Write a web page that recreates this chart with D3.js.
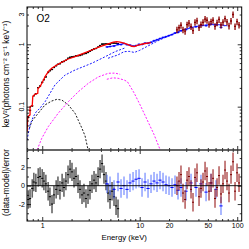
<!DOCTYPE html>
<html>
<head>
<meta charset="utf-8">
<script src="https://cdn.jsdelivr.net/npm/d3@7"></script>
<style>
body { margin: 0; background: #fff; }
svg { display: block; }
text { font-family: "Liberation Sans", Arial, sans-serif; }
</style>
</head>
<body>
<svg id="chart" width="249" height="249"></svg>
<script>
// black data set (soft band)
const blackE = [0.72,0.75,0.79,0.82,0.86,0.91,0.95,1.0,1.04,1.09,1.15,1.2,1.26,1.32,1.39,1.45,1.52,1.6,1.67,1.75,1.84,1.93,2.02,2.12,2.22,2.33,2.44,2.56,2.68,2.81,2.95,3.09,3.24,3.4,3.56,3.74,3.92,4.11,4.3,4.51,4.73,4.96,5.2,5.45,5.72,5.99];
const blackFlux = [0.0674,0.0869,0.1032,0.1495,0.1612,0.2014,0.2142,0.2448,0.2703,0.2995,0.3546,0.3783,0.3943,0.4241,0.4554,0.478,0.4908,0.5219,0.5303,0.5549,0.5974,0.6186,0.6298,0.6375,0.654,0.6583,0.6633,0.6825,0.7056,0.7141,0.741,0.7752,0.8141,0.8425,0.8564,0.902,0.9562,1.007,1.009,1.0125,1.0045,1.0058,1.049,1.0476,1.0395,1.022];
const blackRes = [-1.5,-1.4,-0.3,0.4,0.3,0.9,1.0,0.8,0.5,0.2,-0.6,-1.2,-2.0,-1.0,-0.4,0.0,-0.5,0.3,-0.2,0.5,1.2,1.8,1.5,0.8,1.0,0.2,-0.4,-1.0,-0.8,-1.4,-1.0,-0.5,0.2,0.6,0.3,1.0,1.8,2.4,1.2,0.5,-0.8,-1.5,-0.6,-1.2,-2.2,-2.5];

// blue data set
const blueE = [4.62,4.96,5.45,5.99,6.43,6.9,7.41,7.95,8.54,9.17,9.84,10.56,11.34,12.17,13.06,14.02,15.05,16.15,17.34,18.61,19.98,21.44,23.02,24.71,26.52,29.85,33.6,37.8,42.5,47.9,53.9,60.6,68.2];
const blueFlux = [0.907,0.92,0.935,0.996,0.988,1.03,0.984,0.972,0.938,0.956,1.0,0.992,1.046,1.037,1.079,1.142,1.184,1.239,1.29,1.325,1.38,1.429,1.516,1.548,1.647,1.718,1.872,1.915,2.006,1.983,2.105,2.047,1.87];
const blueRes = [0.2,0.0,-0.4,0.4,-0.3,0.0,-0.4,0.3,0.5,0.7,0.8,-0.2,0.4,-0.3,0.2,0.5,0.3,0.6,0.4,0.1,0.0,-0.2,0.1,-0.5,-0.2,-0.6,0.3,-0.2,0.2,-0.7,0.3,-0.4,-2.2];

// dark red data set (hard band)
const darkE = [24.1,25.3,26.5,27.8,29.2,30.6,32.0,33.6,35.2,36.9,38.7,40.6,42.5,44.6,46.8,49.0,51.4,53.9,56.5,59.2,62.1,65.1,68.2,71.5,75.0,78.6,82.4,86.4,90.6,95.0,99.6,104.4];
const darkFlux = [1.70,1.84,2.02,1.70,1.62,2.06,2.18,1.92,1.66,2.25,2.37,1.85,2.07,2.25,2.54,2.43,2.09,2.30,2.43,1.94,2.21,2.50,2.04,2.26,2.57,2.28,1.97,2.36,3.0,1.93,2.30,2.04];
const darkRes = [0.0,0.5,1.2,-0.8,-1.5,0.6,1.0,-0.4,-1.8,0.9,1.4,-1.2,-0.3,0.4,1.6,1.0,-0.6,0.3,0.8,-1.4,-0.2,1.1,-0.9,0.2,1.7,0.5,-0.8,1.2,2.6,-0.6,1.4,0.3];

// models and components [energy, keV^2 flux]
const modelA = [[0.70,0.040],[0.71,0.069],[0.75,0.074],[0.75,0.100],[0.79,0.104],[0.80,0.145],[0.84,0.158],[0.90,0.164],[0.905,0.197],[0.95,0.209],[0.99,0.237],[1.03,0.268],[1.07,0.303],[1.155,0.364],[1.25,0.412],[1.41,0.466],[1.585,0.515],[1.85,0.581],[2.17,0.633],[2.64,0.717],[3.22,0.81],[3.92,0.915],[4.59,1.0],[5.0,1.04],[5.37,1.08],[5.8,1.10],[6.3,1.08],[6.9,1.04],[7.6,0.99],[8.3,0.93],[8.8,0.915],[9.3,0.95],[9.85,0.975],[11.0,1.02],[13.0,1.06]];
const modelB = [[4.6,0.9],[5.45,0.95],[6.4,1.0],[6.9,1.03],[7.95,0.96],[8.54,0.92],[9.84,0.97],[11.34,1.03],[13.06,1.07],[15.05,1.17],[17.34,1.27],[19.98,1.38],[23.0,1.51],[26.5,1.66],[29.85,1.76],[33.6,1.85],[37.8,1.93],[42.5,1.99],[47.9,2.04],[53.9,2.08],[60.6,2.08],[68.2,2.05],[79,1.98]];
const contA = [[0.698,0.029],[0.75,0.051],[0.805,0.068],[0.864,0.082],[0.95,0.095],[1.07,0.12],[1.35,0.223],[1.71,0.32],[2.17,0.387],[3.22,0.496],[4.43,0.633],[5.58,0.761],[7.05,0.873]];
const contB = [[4.73,0.597],[5.96,0.674],[6.9,0.761],[7.8,0.77],[8.8,0.74],[10.0,0.80],[12.0,0.93],[15.1,1.12],[17.34,1.24],[19.98,1.36],[23.0,1.49],[26.5,1.64],[29.85,1.74],[37.8,1.91],[47.9,2.02],[60.6,2.06],[79,1.96]];
const lineA = [[0.86,0.018],[0.988,0.031],[1.155,0.048],[1.46,0.0786],[1.85,0.12],[2.35,0.174],[2.97,0.237],[3.76,0.30],[4.77,0.343],[5.58,0.345],[6.3,0.33]];
const lineB = [[4.6,0.275],[5.3,0.29],[6.0,0.285],[6.9,0.268],[7.47,0.252],[8.8,0.164],[10.3,0.10],[11.95,0.061],[14.0,0.036],[16.5,0.019]];
const discA = [[0.74,0.045],[0.78,0.058],[0.91,0.0786],[1.07,0.107],[1.25,0.123],[1.41,0.131],[1.585,0.128],[1.85,0.107],[2.17,0.0786],[2.35,0.06],[2.54,0.046],[2.75,0.034],[2.97,0.0195]];

// ticks
const xMajor = [1, 10, 100];
const xLabels = [1, 10, 20, 50, 100];
const yTopMajor = [0.1, 1];
const yTopLabels = [0.1, 1, 3];
const resTicks = [-3, -2, -1, 0, 1, 2, 3];
const resLabels = [-2, 0, 2];

const left = 27, right = 241.7, topY = 7, midY = 150, botY = 221;

const x = d3.scaleLog().domain([0.698, 111.2]).range([left, right]);
const yTop = d3.scaleLog().domain([0.0202, 3.96]).range([midY, topY]);
const yRes = d3.scaleLinear().domain([-3.84, 3.88]).range([botY, midY]);

const svg = d3.select("#chart");
const defs = svg.append("defs");
defs.append("clipPath").attr("id", "clipTop").append("rect")
    .attr("x", left).attr("y", topY).attr("width", right - left).attr("height", midY - topY);
defs.append("clipPath").attr("id", "clipRes").append("rect")
    .attr("x", left).attr("y", midY).attr("width", right - left).attr("height", botY - midY);

const line = d3.line().x(d => x(d[0])).y(d => yTop(d[1]));
const gTop = svg.append("g").attr("clip-path", "url(#clipTop)");
const gRes = svg.append("g").attr("clip-path", "url(#clipRes)");

function curve(data, color, dash, w) {
    gTop.append("path").datum(data)
        .attr("fill", "none")
        .attr("stroke", color)
        .attr("stroke-width", w)
        .attr("stroke-dasharray", dash)
        .attr("d", line);
}

function spectrum(E, F, frac, color, hw, w) {
    const rows = E.map((e, i) => ({e: e, f: F[i]}));
    const g = gTop.append("g").attr("stroke", color).attr("stroke-width", w);
    g.append("g").selectAll("line").data(rows).join("line")
        .attr("x1", d => x(d.e)).attr("x2", d => x(d.e))
        .attr("y1", d => yTop(d.f * (1 - frac))).attr("y2", d => yTop(d.f * (1 + frac)));
    g.append("g").selectAll("line").data(rows).join("line")
        .attr("x1", d => x(d.e) - hw).attr("x2", d => x(d.e) + hw)
        .attr("y1", d => yTop(d.f)).attr("y2", d => yTop(d.f));
}

function residuals(E, R, barColor, color, hw, w) {
    const rows = E.map((e, i) => ({e: e, r: R[i]}));
    gRes.append("g").attr("stroke", barColor).attr("stroke-width", w).attr("opacity", 0.75)
      .selectAll("line").data(rows).join("line")
        .attr("x1", d => x(d.e)).attr("x2", d => x(d.e))
        .attr("y1", d => yRes(d.r - 1)).attr("y2", d => yRes(d.r + 1));
    gRes.append("g").attr("stroke", color).attr("stroke-width", 1)
      .selectAll("line").data(rows).join("line")
        .attr("x1", d => x(d.e) - hw).attr("x2", d => x(d.e) + hw)
        .attr("y1", d => yRes(d.r)).attr("y2", d => yRes(d.r));
}

// top panel
curve(discA, "#000", "2,1.6", 0.9);
curve(lineA, "#ff00ff", "2,1.6", 0.9);
curve(lineB, "#ff00ff", "2,1.6", 0.9);
curve(contA, "#0000ff", "2,1.6", 0.9);
curve(contB, "#0000ff", "2,1.6", 0.9);
spectrum(blackE, blackFlux, 0.03, "#000", 1.1, 1.2);
curve(modelB, "#3030ff", null, 1);
spectrum(blueE, blueFlux, 0.035, "#0000ff", 1.5, 1);
spectrum(darkE, darkFlux, 0.12, "#8b0000", 1.0, 1.3);
curve(modelA, "#ff0000", null, 1.3);

// residual panel
residuals(blackE, blackRes, "#333", "#000", 1.1, 1.6);
residuals(blueE, blueRes, "#3355ff", "#0000ff", 1.6, 1.1);
residuals(darkE, darkRes, "#9b2020", "#7a0000", 1.0, 1.5);
gRes.append("line")
    .attr("x1", left).attr("x2", right)
    .attr("y1", yRes(0)).attr("y2", yRes(0))
    .attr("stroke", "#000").attr("stroke-width", 0.9);

// axes
function styleAxis(g) {
    g.select(".domain").remove();
    g.attr("font-family", "Liberation Sans, Arial, sans-serif").attr("font-size", 7);
    g.selectAll(".tick line").attr("stroke-width", 0.8);
}

function xAxis(axisFn, yPos, withLabels) {
    const k = axisFn === d3.axisBottom ? -1 : 1;
    const g = svg.append("g").attr("transform", `translate(0,${yPos})`)
        .call(axisFn(x).tickValues(x.ticks()).tickSizeInner(-2).tickSizeOuter(0).tickPadding(2.3)
            .tickFormat(d => withLabels && xLabels.includes(d) ? d : ""));
    styleAxis(g);
    g.selectAll(".tick line").filter(d => xMajor.includes(d)).attr("y2", 4 * k);
}
xAxis(d3.axisTop, topY, false);
xAxis(d3.axisBottom, midY, false);
xAxis(d3.axisTop, midY, false);
xAxis(d3.axisBottom, botY, true);

function yAxis(axisFn, xPos, scale, ticks, major, labels) {
    const k = axisFn === d3.axisLeft ? 1 : -1;
    const g = svg.append("g").attr("transform", `translate(${xPos},0)`)
        .call(axisFn(scale).tickValues(ticks).tickSizeInner(-2).tickSizeOuter(0).tickPadding(2)
            .tickFormat(d => labels && labels.includes(d) ? d : ""));
    styleAxis(g);
    g.selectAll(".tick line").filter(d => major.includes(d)).attr("x2", 4 * k);
}
const topTicks = yTop.ticks();
yAxis(d3.axisLeft, left, yTop, topTicks, yTopMajor, null);
yAxis(d3.axisRight, right, yTop, topTicks, yTopMajor, null);
yAxis(d3.axisLeft, left, yRes, resTicks, resLabels, resLabels);
yAxis(d3.axisRight, right, yRes, resTicks, resLabels, null);

svg.append("g").selectAll("text").data(yTopLabels).join("text")
    .attr("transform", d => `translate(23.5,${yTop(d)}) rotate(-90)`)
    .attr("text-anchor", "middle")
    .attr("font-size", 7)
    .text(d => d);

// frames
svg.append("rect").attr("x", left).attr("y", topY)
    .attr("width", right - left).attr("height", botY - topY)
    .attr("fill", "none").attr("stroke", "#000").attr("stroke-width", 1);
svg.append("line").attr("x1", left).attr("x2", right)
    .attr("y1", midY).attr("y2", midY)
    .attr("stroke", "#333").attr("stroke-width", 1.7);

// titles
svg.append("text").attr("x", 36.5).attr("y", 21.5).attr("font-size", 10).text("O2");
svg.append("text")
    .attr("transform", `translate(8.8,74) rotate(-90)`)
    .attr("text-anchor", "middle").attr("font-size", 8.4)
    .text("keV\u00b2(photons cm\u207b\u00b2 s\u207b\u00b9 keV\u207b\u00b9)");
svg.append("text")
    .attr("transform", `translate(8.8,182.5) rotate(-90)`)
    .attr("text-anchor", "middle").attr("font-size", 8.3)
    .text("(data-model)/error");
svg.append("text").attr("x", 124.2).attr("y", 239.6)
    .attr("text-anchor", "middle").attr("font-size", 7.8)
    .text("Energy (keV)");
</script>
</body>
</html>
